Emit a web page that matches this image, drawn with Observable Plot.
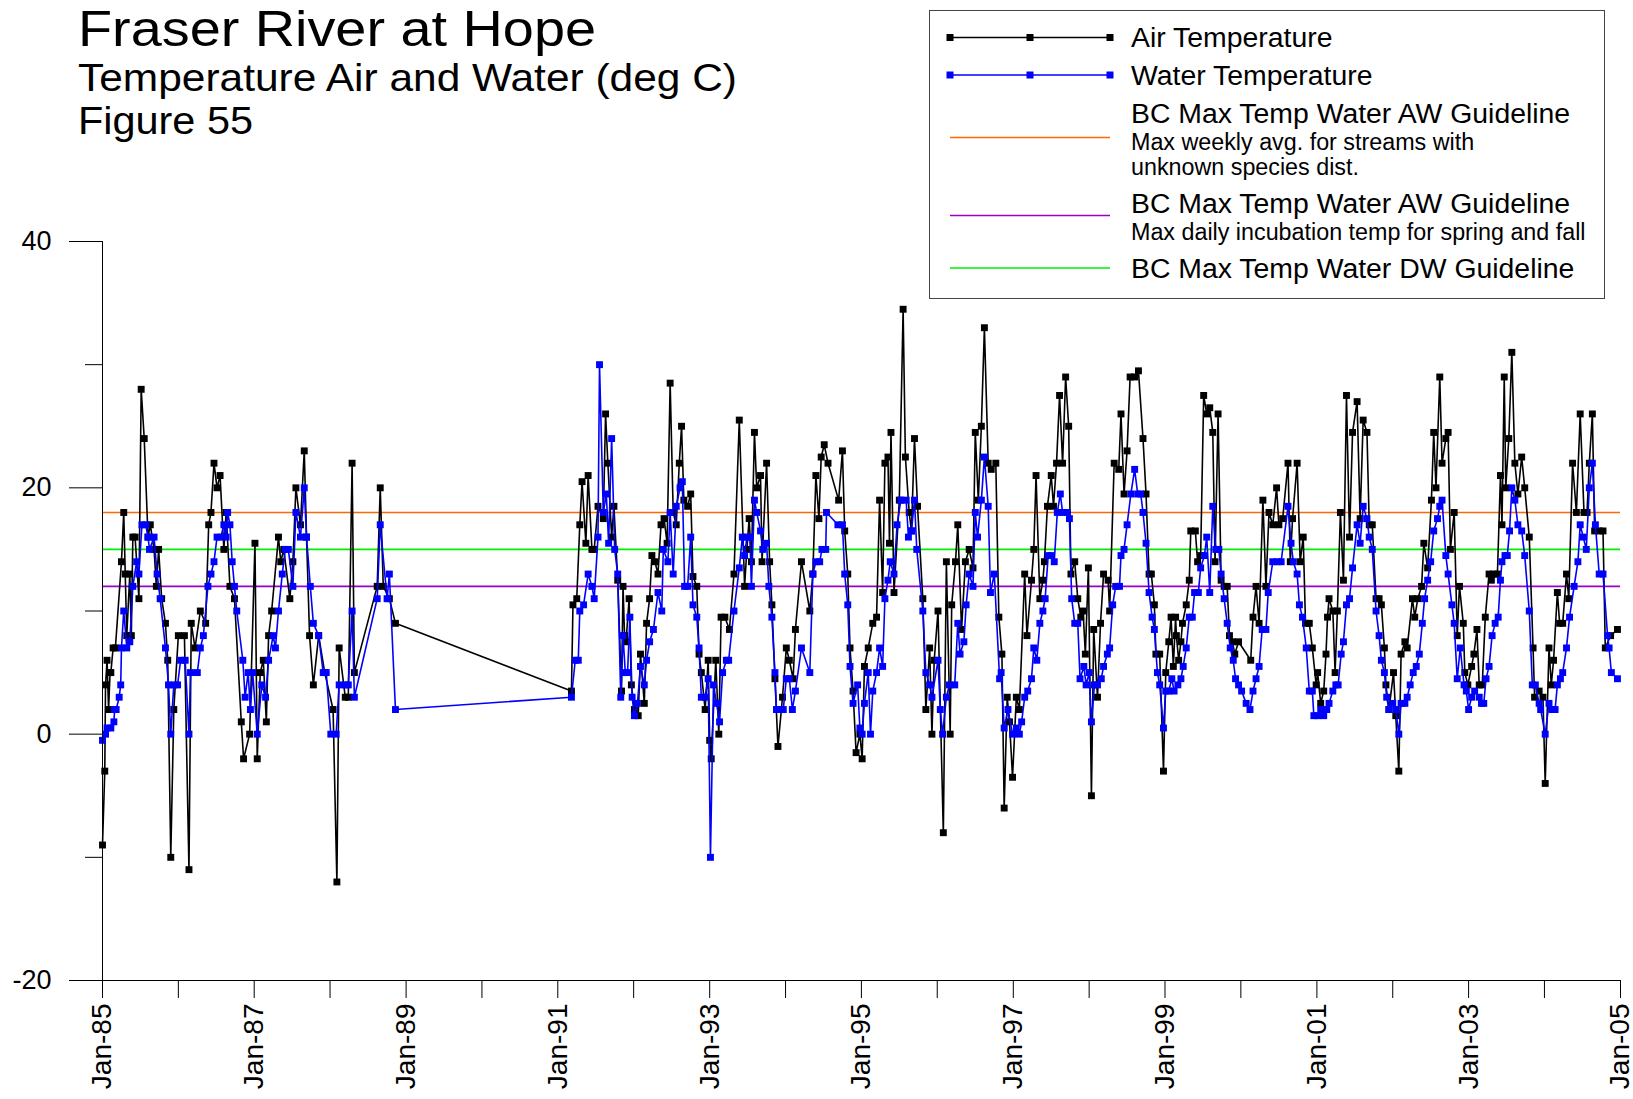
<!DOCTYPE html>
<html>
<head>
<meta charset="utf-8">
<script src="https://cdn.jsdelivr.net/npm/d3@7"></script>
<script src="https://cdn.jsdelivr.net/npm/@observablehq/plot@0.6"></script>
<style>
  html, body { margin: 0; padding: 0; background: #fff; }
  #wrap { position: relative; width: 1633px; height: 1099px; font-family: "Liberation Sans", Arial, sans-serif; }
  #overlay { position: absolute; left: 0; top: 0; pointer-events: none; overflow: visible; }
  #chart { position: absolute; left: 0; top: 0; }
</style>
</head>
<body>
<div id="wrap">
  <div id="chart"></div>
  <svg id="overlay" width="1633" height="300"></svg>
</div>
<script>
// ---------- DATA (decimal year, deg C) ----------
const airTemperature = [
[1985.00,-9],[1985.03,-3],[1985.04,4],[1985.06,6],[1985.08,2],[1985.10,5],[1985.11,5],[1985.14,7],[1985.17,7],
[1985.25,14],[1985.28,18],[1985.30,13],[1985.32,8],[1985.36,13],[1985.38,8],[1985.40,16],[1985.43,16],[1985.48,11],
[1985.51,28],[1985.55,24],[1985.60,16],[1985.63,17],[1985.68,15],[1985.71,12],[1985.74,15],[1985.78,11],[1985.83,9],
[1985.86,6],[1985.90,-10],[1985.94,2],[1986.00,8],[1986.08,8],[1986.14,-11],[1986.17,9],[1986.22,7],[1986.29,10],
[1986.36,9],[1986.40,17],[1986.43,18],[1986.47,22],[1986.51,20],[1986.55,21],[1986.60,15],[1986.63,18],[1986.68,12],
[1986.74,11],[1986.83,1],[1986.86,-2],[1986.94,0],
[1987.01,15.5],[1987.04,-2],[1987.08,5],[1987.12,6],[1987.16,1],[1987.19,8],[1987.23,10],[1987.32,16],[1987.35,14],
[1987.39,15],[1987.47,11],[1987.51,14],[1987.55,20],[1987.61,17],[1987.66,23],[1987.69,16],[1987.73,8],[1987.78,4],
[1987.85,8],[1987.93,5],[1988.04,2],[1988.09,-12],[1988.12,7],[1988.20,3],[1988.24,3],[1988.29,22],[1988.32,5],
[1988.62,12],[1988.66,20],[1988.70,12],[1988.78,11],[1988.86,9],
[1991.18,3.5],[1991.20,10.5],[1991.25,11],[1991.29,17],[1991.32,20.5],[1991.37,15.5],[1991.40,21],[1991.45,15],
[1991.48,15],[1991.53,18.5],[1991.60,17.5],[1991.63,26],[1991.66,22],[1991.71,16],[1991.74,18.5],[1991.79,12.5],
[1991.84,3.5],[1991.86,12],[1991.88,8],[1991.90,7.5],[1991.94,11],[1991.97,4],[1992.01,2],[1992.06,1.5],[1992.09,6.5],
[1992.14,2.5],[1992.17,9],[1992.21,11],[1992.24,14.5],[1992.28,14],[1992.32,13],[1992.36,17],[1992.40,17.5],
[1992.44,15.5],[1992.48,28.5],[1992.52,18],[1992.56,17],[1992.60,22],[1992.63,25],[1992.66,19],[1992.71,18.5],
[1992.75,19.5],[1992.78,12.8],[1992.83,12],[1992.86,6.5],[1992.89,5],[1992.94,2],[1992.98,6],[1993.00,-0.5],[1993.02,-2],
[1993.08,6],[1993.12,0],[1993.15,9.5],[1993.20,9.5],[1993.26,8.5],[1993.32,13],[1993.39,25.5],[1993.46,12],[1993.49,15],
[1993.52,17.5],[1993.55,14],[1993.59,24.5],[1993.62,20],[1993.67,21],[1993.69,14],[1993.75,22],[1993.79,14],[1993.82,10.5],
[1993.86,4.5],[1993.90,-1],[1993.96,3],[1994.01,7],[1994.05,6],[1994.10,4.5],[1994.13,8.5],[1994.21,14],[1994.32,10],
[1994.36,13],[1994.40,21],[1994.44,17.5],[1994.47,22.5],[1994.51,23.5],[1994.56,22],[1994.70,19],[1994.75,23],
[1994.78,16.5],[1994.82,13],[1994.85,7],[1994.89,3.5],
[1994.93,-1.5],[1994.98,0],[1995.01,-2],[1995.04,5.5],[1995.09,7],[1995.15,9],[1995.20,9.5],[1995.24,19],[1995.28,11.5],
[1995.31,22],[1995.35,22.5],[1995.37,15.5],[1995.39,24.5],[1995.43,11.5],[1995.50,19],[1995.55,34.5],[1995.58,22.5],
[1995.63,18],[1995.66,16.5],[1995.70,24],[1995.74,18.5],[1995.81,11],[1995.85,2],[1995.90,7],[1995.93,0],[1995.96,6],
[1996.01,10],[1996.08,-8],[1996.12,14],[1996.17,0],[1996.19,10.5],[1996.24,14],[1996.27,17],[1996.32,8.5],[1996.37,14],
[1996.42,15],[1996.47,13.5],[1996.50,24.5],[1996.54,19],[1996.58,25],[1996.62,33],[1996.67,22],[1996.71,21.5],[1996.77,22],
[1996.81,9.5],[1996.85,6.5],[1996.88,-6],[1996.92,3],[1996.95,1],[1996.99,-3.5],[1997.04,3],[1997.08,2],[1997.15,13],
[1997.18,8],[1997.24,12.5],[1997.27,15],[1997.30,21],[1997.35,11],[1997.39,12.5],[1997.41,14],[1997.45,18.5],[1997.50,21],
[1997.53,18.5],[1997.57,22],[1997.61,27.5],[1997.65,22],[1997.69,29],[1997.73,25],[1997.76,13],[1997.81,14],[1997.85,11],
[1997.89,9.5],[1997.92,10],[1997.95,6.5],[1997.99,13.5],[1998.03,-5],[1998.06,8.5],[1998.11,3],[1998.15,9],[1998.19,13],
[1998.25,12.5],[1998.27,10],[1998.33,22],[1998.39,21.5],[1998.42,26],[1998.46,19.5],[1998.50,23],[1998.54,29],[1998.60,29],
[1998.65,29.5],
[1998.71,24],[1998.75,19.5],[1998.79,13],[1998.82,13],[1998.86,10.5],[1998.88,6.5],[1998.93,6.5],[1998.98,-3],[1999.01,5],
[1999.05,7.5],[1999.08,9.5],[1999.11,5.5],[1999.14,9.5],[1999.15,8],[1999.18,6],[1999.21,7.5],[1999.23,9],[1999.28,10.5],
[1999.32,12.5],[1999.34,16.5],[1999.40,16.5],[1999.43,14],[1999.47,14.5],[1999.51,27.5],[1999.55,26],[1999.59,26.5],
[1999.63,24.5],[1999.66,14],[1999.70,26],[1999.74,12.5],[1999.78,12],[1999.82,12],[1999.85,8],[1999.89,7.5],[1999.92,6.5],
[1999.97,7.5],[2000.13,6],[2000.16,9.5],[2000.20,12],[2000.24,9],[2000.29,19],[2000.33,12],[2000.37,18],[2000.42,17],
[2000.47,20],[2000.50,17],[2000.55,17.5],
[2000.62,22],[2000.65,14],[2000.68,17.5],[2000.74,22],[2000.78,14],[2000.82,16],[2000.85,9],[2000.90,9],[2000.94,7],
[2000.99,4],[2001.01,5],[2001.05,2.5],[2001.09,3.5],[2001.12,6.5],[2001.14,9.5],[2001.16,11],[2001.21,10],[2001.24,5],
[2001.27,10],[2001.31,18],[2001.35,12.5],[2001.39,27.5],[2001.43,16],[2001.47,24.5],[2001.53,27],[2001.57,17.5],
[2001.61,25.5],[2001.66,24.5],[2001.69,17],[2001.73,17],[2001.78,11],[2001.82,11],[2001.85,10.5],[2001.89,7],[2001.91,4],
[2001.95,2],[2002.01,5],[2002.04,1.5],[2002.08,-3],[2002.11,6.5],[2002.16,7.5],[2002.19,7],[2002.26,11],[2002.29,9.5],
[2002.33,11],[2002.38,12],[2002.41,15.5],[2002.46,13.5],
[2002.51,19],[2002.54,24.5],[2002.57,20],[2002.62,29],[2002.65,22],[2002.70,24],[2002.73,24.5],[2002.76,15],[2002.81,18],
[2002.85,8],[2002.88,12],[2002.93,9],[2002.95,5],[2002.99,4],[2003.04,5.5],[2003.07,6.5],[2003.11,8.5],[2003.14,4],
[2003.18,4],[2003.22,9.5],[2003.27,13],[2003.30,12.5],[2003.33,13],[2003.38,13],[2003.42,21],[2003.44,17],[2003.47,29],
[2003.49,20],[2003.53,24],[2003.57,31],[2003.61,22],[2003.65,19.5],[2003.70,22.5],[2003.74,20],[2003.80,16],[2003.85,7],
[2003.87,3],[2003.93,3.5],
[2003.98,3],[2004.01,-4],[2004.06,7],[2004.09,4],[2004.12,6],[2004.17,11.5],[2004.20,9],[2004.24,9],[2004.29,13],
[2004.32,11],[2004.37,22],[2004.42,18],[2004.47,26],[2004.52,18],[2004.56,18],[2004.59,22],[2004.63,26],[2004.66,16.5],
[2004.72,16.5],[2004.77,16.5],[2004.80,7],[2004.87,8],[2004.96,8.5]
];

const waterTemperature = [
[1985.00,-0.5],[1985.04,0],[1985.06,0.5],[1985.11,0.5],[1985.15,1],[1985.16,2],[1985.18,2],[1985.22,3],[1985.24,4],
[1985.25,7],[1985.28,10],[1985.32,7],[1985.36,7.5],[1985.40,12],[1985.45,14],[1985.48,13],[1985.52,17],[1985.57,17],
[1985.60,16],[1985.62,15],[1985.68,16],[1985.72,13],[1985.76,11],[1985.83,7],[1985.87,4],[1985.90,0],[1985.94,4],
[1985.99,4],[1986.03,6],[1986.09,6],[1986.14,0],[1986.16,5],[1986.25,5],[1986.29,7],[1986.33,8],[1986.39,12],
[1986.43,13],[1986.47,14],[1986.51,16],[1986.56,16],[1986.60,17],[1986.63,16],[1986.65,18],[1986.68,17],[1986.71,14],
[1986.74,12],[1986.77,10],[1986.85,6],[1986.88,3],[1986.92,5],[1986.95,2],[1986.98,5],[1987.04,0],
[1987.10,4],[1987.15,3],[1987.19,6],[1987.25,8],[1987.28,7],[1987.32,10],[1987.37,13],[1987.41,15],[1987.45,15],
[1987.51,12],[1987.55,18],[1987.61,16],[1987.66,20],[1987.69,16],[1987.74,12],[1987.78,9],[1987.85,8],[1987.91,5],
[1987.95,5],[1988.01,0],[1988.08,0],[1988.12,4],[1988.20,4],[1988.24,4],[1988.29,10],[1988.32,3],[1988.62,11],
[1988.66,17],[1988.75,11],[1988.78,13],[1988.86,2],
[1991.18,3],[1991.23,6],[1991.27,6],[1991.29,10],[1991.34,10.5],[1991.40,13],[1991.45,12],[1991.48,11],[1991.53,16],
[1991.55,30],[1991.60,18],[1991.64,19.5],[1991.67,15.5],[1991.71,24],[1991.75,15],[1991.79,13],[1991.83,3],[1991.86,8],
[1991.89,5],[1991.92,5],[1991.95,9.5],[1991.98,3],[1992.01,1.5],[1992.05,2.5],[1992.09,5.5],[1992.14,4],[1992.17,6],
[1992.21,7.5],[1992.26,8.5],[1992.32,11.5],[1992.37,10],[1992.39,15],[1992.45,14],[1992.48,18],[1992.52,13],
[1992.56,18.5],[1992.61,20],[1992.64,20.5],[1992.67,12],[1992.71,12],[1992.75,16],[1992.78,10.5],[1992.83,9.5],
[1992.86,7],[1992.89,3],[1992.94,3],[1992.98,4.5],[1993.01,-10],
[1993.05,4],[1993.09,2.5],[1993.13,1],[1993.17,5],[1993.22,6],[1993.25,6],[1993.32,10],[1993.39,13.5],[1993.43,16],
[1993.46,14.5],[1993.49,16],[1993.53,16],[1993.55,12],[1993.59,19],[1993.62,18],[1993.67,16.5],[1993.70,15],
[1993.75,15.5],[1993.78,12],[1993.82,9.5],[1993.86,5],[1993.88,2],[1993.92,2],[1993.97,2],[1994.01,4.5],[1994.05,4.5],
[1994.09,2],[1994.13,3.5],[1994.21,7],[1994.32,5],[1994.36,13],[1994.40,14],[1994.45,14],[1994.48,15],[1994.53,15],
[1994.54,18],[1994.69,17],[1994.75,17],[1994.78,13],[1994.82,10.5],[1994.85,5.5],[1994.89,2.5],[1994.95,4],
[1994.98,0.5],[1995.01,0],[1995.04,2.5],[1995.09,5],[1995.12,0],[1995.15,3.5],[1995.20,5],[1995.24,7],[1995.28,5.5],
[1995.31,11],[1995.35,12.5],[1995.38,14],[1995.43,13],[1995.47,17],[1995.52,19],[1995.59,19],[1995.62,16],[1995.66,16.5],
[1995.70,19],[1995.73,15],[1995.81,10],[1995.85,5],[1995.90,4],[1995.93,3],[1996.01,6],[1996.04,2],[1996.07,0],
[1996.12,3],[1996.16,4],[1996.23,4],[1996.27,9],[1996.30,6.5],[1996.35,7.5],[1996.38,10.5],[1996.42,13],[1996.47,12],
[1996.50,18],[1996.53,16],[1996.58,19],[1996.62,22.5],[1996.67,18.5],[1996.70,11.5],[1996.75,13],
[1996.82,4.5],[1996.84,5],[1996.88,0.5],[1996.93,2],[1996.99,0],[1997.04,0.5],[1997.08,0],[1997.11,1],[1997.15,3],
[1997.19,3.5],[1997.24,4.5],[1997.27,7],[1997.31,6],[1997.35,9],[1997.39,10],[1997.42,11],[1997.46,14.5],[1997.50,14.5],
[1997.54,14],[1997.58,18],[1997.62,19.5],[1997.65,18],[1997.71,18],[1997.74,17.5],[1997.77,11],[1997.81,9],[1997.85,9],
[1997.88,4.5],[1997.93,5.5],[1997.96,4],[1998.00,5],[1998.03,1],[1998.07,4],[1998.11,4],[1998.16,4.5],[1998.19,5.5],
[1998.24,6.5],[1998.27,7],[1998.31,10.5],[1998.35,12],[1998.40,12],[1998.42,14.5],[1998.46,15],[1998.50,17],[1998.55,19.5],
[1998.60,21.5],[1998.64,19.5],[1998.68,19.5],
[1998.71,18],[1998.75,15.5],[1998.79,11.5],[1998.83,9.5],[1998.86,8.5],[1998.90,5],[1998.93,4],[1998.98,0.5],[1999.01,3.5],
[1999.05,3.5],[1999.09,4.5],[1999.12,3.5],[1999.17,4],[1999.21,4.5],[1999.24,5.5],[1999.28,7],[1999.32,9.5],[1999.36,9.5],
[1999.39,11.5],[1999.44,11.5],[1999.47,13.5],[1999.52,14.5],[1999.55,16],[1999.59,11.5],[1999.63,18.5],[1999.67,15],
[1999.71,15],[1999.74,13],[1999.78,11],[1999.82,9],[1999.86,7],[1999.90,6],[1999.93,4.5],[1999.97,4],[2000.01,3.5],
[2000.07,2.5],[2000.12,2],[2000.16,3.5],[2000.20,4.5],[2000.24,5.5],[2000.28,8.5],[2000.33,8.5],[2000.36,11.5],[2000.42,14],
[2000.48,14],[2000.53,14],
[2000.62,18.5],[2000.66,15.5],[2000.69,14],[2000.74,13],[2000.77,10.5],[2000.81,9.5],[2000.86,7],[2000.90,3.5],[2000.94,3.5],
[2000.96,1.5],[2001.01,1.5],[2001.05,2],[2001.09,1.5],[2001.13,2],[2001.16,2.5],[2001.21,3.5],[2001.25,4],[2001.28,4],
[2001.32,6.5],[2001.35,7.5],[2001.39,10.5],[2001.43,11],[2001.47,13.5],[2001.53,17],[2001.57,15.5],[2001.61,18.5],
[2001.66,17.5],[2001.69,16],[2001.73,15],[2001.78,10],[2001.82,8],[2001.85,6],[2001.89,5],[2001.92,3],[2001.95,2],
[2002.00,2.5],[2002.04,2],[2002.08,0],[2002.11,2.5],[2002.16,2.5],[2002.19,3],[2002.23,4],[2002.27,5],[2002.31,5.5],
[2002.35,6.5],[2002.39,9],[2002.42,11],[2002.46,12.5],
[2002.50,14],[2002.54,16.5],[2002.59,17.5],[2002.62,18.5],[2002.65,19],[2002.70,14.5],[2002.73,13],[2002.78,10.5],
[2002.81,9],[2002.85,4.5],[2002.89,7],[2002.94,4],[2002.97,3.5],[2003.00,2],[2003.04,3],[2003.08,3.5],[2003.14,3],
[2003.17,2.5],[2003.20,2.5],[2003.23,4.5],[2003.27,5.5],[2003.31,8],[2003.35,9],[2003.39,9.5],[2003.42,12.5],[2003.44,14],
[2003.48,14.5],[2003.51,14.5],[2003.54,16.5],[2003.57,20],[2003.61,19],[2003.65,17],[2003.70,16.5],[2003.74,14.5],
[2003.80,10],[2003.84,4],[2003.88,4],[2003.93,2.5],
[2003.95,2],[2004.01,0],[2004.06,2.5],[2004.10,2],[2004.14,2],[2004.17,4],[2004.21,4.5],[2004.24,5],[2004.29,7],
[2004.33,9.5],[2004.39,12],[2004.44,14],[2004.47,17],[2004.51,16],[2004.55,15],[2004.59,20],[2004.63,22],[2004.67,17],
[2004.72,13],[2004.77,13],[2004.83,8],[2004.85,7],[2004.88,5],[2004.96,4.5]
];

const guidelineValues = [18, 12, 15];
const guidelineColors = ["#ff6a00", "#9900cc", "#00ee00"];
const yMajorTicks = [-20, 0, 20, 40];
const yMinorTicks = [-10, 10, 30];
const xTickYears = d3.range(1985, 2006);
const xLabelYears = d3.range(1985, 2006, 2);

// ---------- helpers ----------
const toDate = y => {
  const yr = Math.floor(y + 1e-9);
  const start = Date.UTC(yr, 0, 1), end = Date.UTC(yr + 1, 0, 1);
  return new Date(start + (y - yr) * (end - start));
};
const toRows = arr => arr.map(([t, v]) => ({date: toDate(t), value: v}));
const air = toRows(airTemperature);
const water = toRows(waterTemperature);
const xStart = new Date(Date.UTC(1985, 0, 1));
const xEnd = new Date(Date.UTC(2005, 0, 1));
const fontFamily = '"Liberation Sans", Arial, Helvetica, sans-serif';

const chart = Plot.plot({
  width: 1633,
  height: 1099,
  marginLeft: 102,
  marginRight: 13,
  marginTop: 241,
  marginBottom: 119,
  style: {fontFamily, background: "#fff", color: "#000", overflow: "visible"},
  x: {type: "utc", domain: [xStart, xEnd]},
  y: {domain: [-20, 40]},
  marks: [
    ...guidelineValues.map((g, i) => Plot.ruleY([g], {stroke: guidelineColors[i], strokeWidth: 1.6})),
    Plot.line(air, {x: "date", y: "value", stroke: "#000", strokeWidth: 1.6}),
    Plot.dot(air, {x: "date", y: "value", symbol: "square", r: 3.9, fill: "#000", stroke: "none"}),
    Plot.line(water, {x: "date", y: "value", stroke: "#0000ff", strokeWidth: 1.6}),
    Plot.dot(water, {x: "date", y: "value", symbol: "square", r: 3.9, fill: "#0000ff", stroke: "none"}),
    Plot.ruleX([xStart], {y1: -20, y2: 40, stroke: "#000", strokeWidth: 1}),
    Plot.ruleY([-20], {stroke: "#000", strokeWidth: 1}),
    Plot.axisY({ticks: yMajorTicks, tickSize: 33, tickPadding: 18, fontSize: 27, tickFormat: d => String(d), label: null, stroke: "#000"}),
    Plot.axisY({ticks: yMinorTicks, tickSize: 17, tickFormat: () => "", label: null, stroke: "#000"}),
    Plot.axisX({
      ticks: xTickYears.map(y => new Date(Date.UTC(y, 0, 1))),
      tickSize: 18, tickPadding: 5, tickRotate: -90, fontSize: 28, label: null, stroke: "#000",
      tickFormat: d => xLabelYears.includes(d.getUTCFullYear()) ? "Jan-" + String(d.getUTCFullYear()).slice(2) : ""
    })
  ]
});
document.getElementById("chart").appendChild(chart);

// ---------- titles and legend (overlay) ----------
const ov = d3.select("#overlay").style("font-family", fontFamily);
const titleLines = [
  {text: "Fraser River at Hope", y: 45.5, size: 50, len: 518},
  {text: "Temperature Air and Water (deg C)", y: 91, size: 38.5, len: 659},
  {text: "Figure 55", y: 134, size: 38.5, len: 175}
];
titleLines.forEach(t => ov.append("text").attr("x", 78).attr("y", t.y).attr("font-size", t.size)
  .attr("textLength", t.len).attr("lengthAdjust", "spacingAndGlyphs").text(t.text));

ov.append("rect").attr("x", 929.5).attr("y", 10.5).attr("width", 675).attr("height", 288)
  .attr("fill", "#fff").attr("stroke", "#444").attr("stroke-width", 1);

const legendItems = [
  {y: 37.5, color: "#000", markers: true, label: "Air Temperature", sub: []},
  {y: 75, color: "#0000ff", markers: true, label: "Water Temperature", sub: []},
  {y: 137.5, labelY: 113.5, color: guidelineColors[0], markers: false, label: "BC Max Temp Water AW Guideline",
   sub: [["Max weekly avg. for streams with", 141.5], ["unknown species dist.", 166.5]]},
  {y: 215.5, labelY: 203, color: guidelineColors[1], markers: false, label: "BC Max Temp Water AW Guideline",
   sub: [["Max daily incubation temp for spring and fall", 231.5]]},
  {y: 268, color: guidelineColors[2], markers: false, label: "BC Max Temp Water DW Guideline", sub: []}
];
legendItems.forEach(it => {
  ov.append("line").attr("x1", 950).attr("x2", 1110).attr("y1", it.y).attr("y2", it.y)
    .attr("stroke", it.color).attr("stroke-width", 1.6);
  if (it.markers) {
    [950, 1030, 1110].forEach(mx => ov.append("rect").attr("x", mx - 3.5).attr("y", it.y - 3.5)
      .attr("width", 7).attr("height", 7).attr("fill", it.color));
  }
  ov.append("text").attr("x", 1131).attr("y", it.labelY ?? it.y).attr("dy", "0.35em")
    .attr("font-size", 28.4).text(it.label);
  it.sub.forEach(([s, sy]) => ov.append("text").attr("x", 1131).attr("y", sy).attr("dy", "0.35em")
    .attr("font-size", 23.3).text(s));
});
</script>
</body>
</html>
